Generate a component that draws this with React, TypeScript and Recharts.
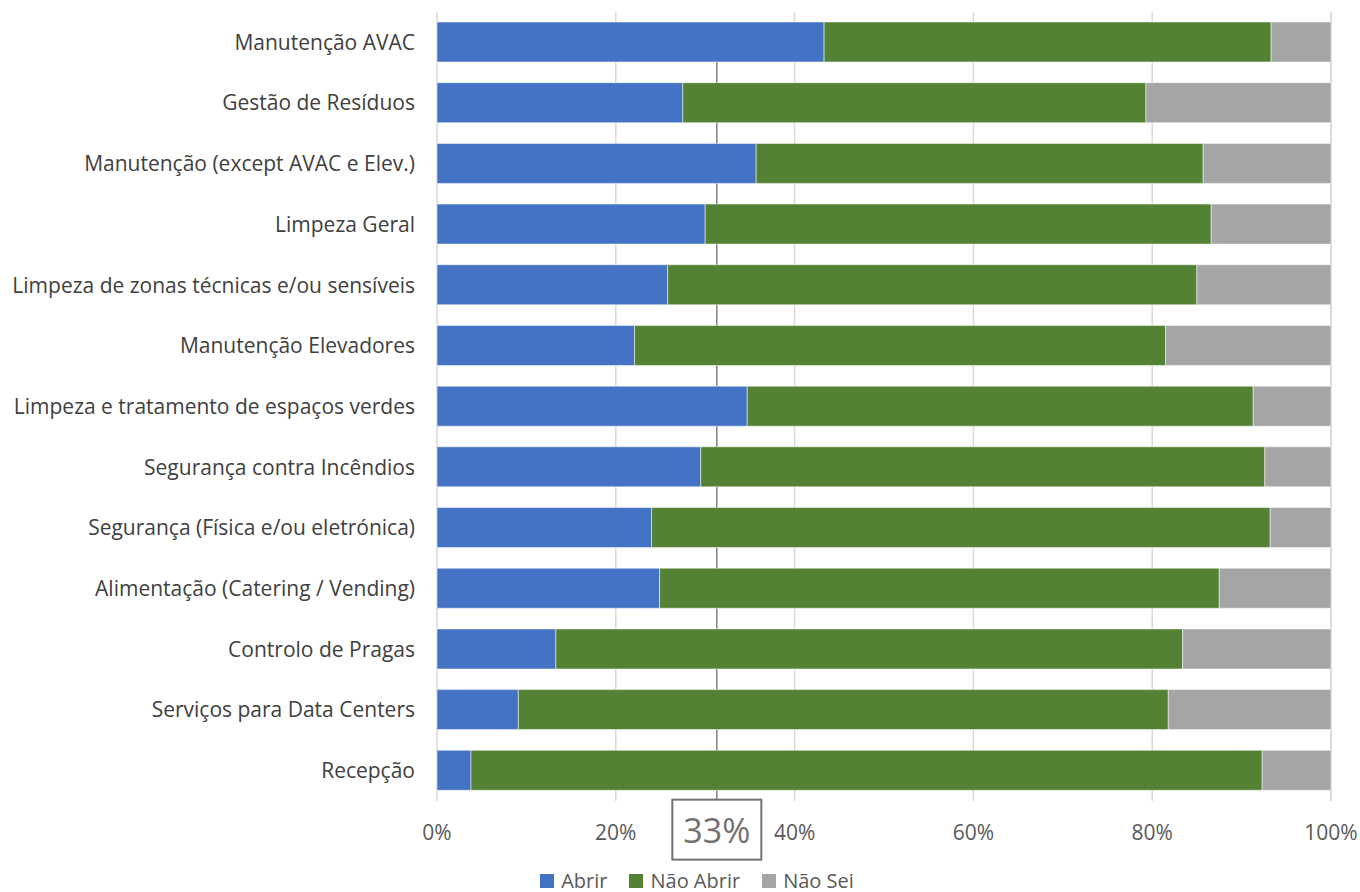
import React from 'react';
import {
  BarChart,
  Bar,
  XAxis,
  YAxis,
  CartesianGrid,
  Legend,
  ReferenceLine,
} from 'recharts';

const categories = [
  'Manutenção AVAC',
  'Gestão de Resíduos',
  'Manutenção (except AVAC e Elev.)',
  'Limpeza Geral',
  'Limpeza de zonas técnicas e/ou sensíveis',
  'Manutenção Elevadores',
  'Limpeza e tratamento de espaços verdes',
  'Segurança contra Incêndios',
  'Segurança (Física e/ou eletrónica)',
  'Alimentação (Catering / Vending)',
  'Controlo de Pragas',
  'Serviços para Data Centers',
  'Recepção',
];

const abrir = [43.3, 27.5, 35.7, 30.0, 25.8, 22.1, 34.7, 29.5, 24.0, 24.9, 13.3, 9.1, 3.8];
const naoAbrir = [50.0, 51.8, 50.0, 56.6, 59.2, 59.4, 56.6, 63.1, 69.2, 62.6, 70.1, 72.7, 88.5];
const naoSei = [6.7, 20.7, 14.3, 13.4, 15.0, 18.5, 8.7, 7.4, 6.8, 12.5, 16.6, 18.2, 7.7];

const xTicks = [0, 20, 40, 60, 80, 100];

// marker line and its label
const markerValue = 31.3;
const markerLabel = '33%';

const chartData = categories.map((name, i) => ({
  name,
  Abrir: abrir[i],
  'Não Abrir': naoAbrir[i],
  'Não Sei': naoSei[i],
}));

const font = '"Open Sans", sans-serif';

const MarkerShape = (props: any) => {
  const { x1, y1, y2 } = props;
  const boxTop = y2 + 29;
  return (
    <g>
      <line x1={x1} y1={y1} x2={x1} y2={boxTop} stroke="#7f7f7f" strokeWidth={1.5} />
      <rect
        x={x1 - 44.5}
        y={boxTop}
        width={89}
        height={60}
        fill="#fff"
        stroke="#767171"
        strokeWidth={2}
      />
      <text
        x={x1}
        y={boxTop + 30}
        textAnchor="middle"
        dominantBaseline="central"
        fontSize={34}
        fontFamily={font}
        fill="#767171"
      >
        {markerLabel}
      </text>
    </g>
  );
};

const XTick = (props: any) => {
  const { x, y, payload } = props;
  return (
    <text
      x={x}
      y={y + 24}
      dy="0.71em"
      textAnchor="middle"
      fill="#595959"
      fontSize={21}
      fontFamily={font}
    >
      {`${payload.value}%`}
    </text>
  );
};

const LegendContent = (props: any) => {
  const { payload } = props;
  return (
    <div
      style={{
        display: 'flex',
        justifyContent: 'center',
        alignItems: 'center',
        height: 22,
        lineHeight: '22px',
        fontFamily: font,
        fontSize: 20,
        color: '#595959',
      }}
    >
      {payload.map((entry: any, i: number) => (
        <div
          key={entry.value}
          style={{ display: 'flex', alignItems: 'center', marginLeft: i === 0 ? 0 : 22 }}
        >
          <span
            style={{ width: 14, height: 14, background: entry.color, marginRight: 7, display: 'inline-block' }}
          />
          <span>{entry.value}</span>
        </div>
      ))}
    </div>
  );
};

export default function App() {
  return (
    <div style={{ position: 'absolute', left: 0, top: 0, background: '#fff' }}>
      <BarChart
        width={1360}
        height={892}
        data={chartData}
        layout="vertical"
        barSize={40}
        margin={{ top: 12, right: 29, left: 0, bottom: 0 }}
      >
        <CartesianGrid horizontal={false} stroke="#d9d9d9" strokeWidth={1.5} />
        <XAxis
          type="number"
          domain={[0, 100]}
          ticks={xTicks}
          axisLine={false}
          tickLine={false}
          tickSize={0}
          tickMargin={0}
          height={69}
          tick={<XTick />}
        />
        <YAxis
          type="category"
          dataKey="name"
          width={437}
          axisLine={false}
          tickLine={false}
          tickSize={0}
          tickMargin={22}
          interval={0}
          tick={{ fill: '#404040', fontSize: 21, fontFamily: font }}
        />
        <ReferenceLine
          segment={[
            { x: markerValue, y: categories[0] },
            { x: markerValue, y: categories[categories.length - 1] },
          ]}
          ifOverflow="visible"
          zIndex={0}
          shape={MarkerShape}
        />
        <Bar dataKey="Abrir" stackId="a" fill="#4472c4" stroke="#ffffff" strokeOpacity={0.5} isAnimationActive={false} />
        <Bar dataKey="Não Abrir" stackId="a" fill="#548235" stroke="#ffffff" strokeOpacity={0.5} isAnimationActive={false} />
        <Bar dataKey="Não Sei" stackId="a" fill="#a5a5a5" stroke="#ffffff" strokeOpacity={0.5} isAnimationActive={false} />
        <Legend
          verticalAlign="bottom"
          height={22}
          wrapperStyle={{ left: 34, width: 1326 }}
          content={<LegendContent />}
        />
      </BarChart>
    </div>
  );
}
